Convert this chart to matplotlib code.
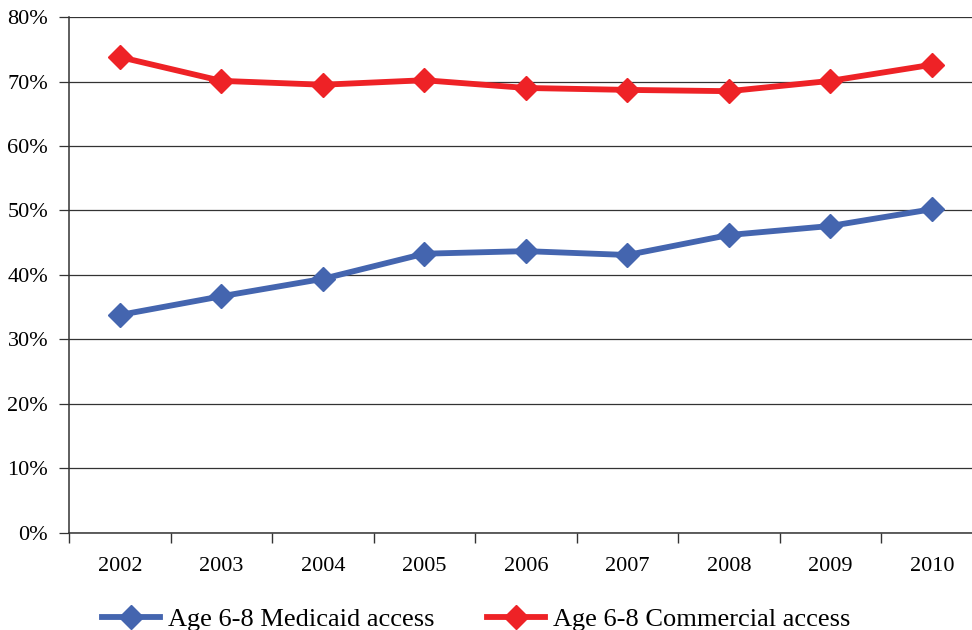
import matplotlib
matplotlib.use("Agg")
import matplotlib.pyplot as plt
import numpy as np
from matplotlib.ticker import FuncFormatter

years = ["2002", "2003", "2004", "2005", "2006", "2007", "2008", "2009", "2010"]
medicaid = [33.8, 36.7, 39.4, 43.3, 43.7, 43.1, 46.2, 47.6, 50.2]
commercial = [73.8, 70.1, 69.5, 70.2, 69.0, 68.7, 68.5, 70.1, 72.6]

plt.rcParams["font.family"] = ["Liberation Serif", "DejaVu Serif"]

fig = plt.figure(figsize=(9.72, 6.3), dpi=100)
ax = fig.add_axes([0.071, 0.154, 0.94, 0.819])

x = np.arange(len(years))
ax.plot(x, medicaid, color="#4465AF", lw=4.2, marker="D", ms=12,
        label="Age 6-8 Medicaid access", zorder=3)
ax.plot(x, commercial, color="#EE2226", lw=4.2, marker="D", ms=12,
        label="Age 6-8 Commercial access", zorder=3)

ax.set_ylim(0, 80)
ax.set_yticks(np.arange(0, 81, 10))
ax.yaxis.set_major_formatter(FuncFormatter(lambda v, p: f"{v:.0f}%"))
ax.grid(axis="y", color="#333333", lw=0.9)
ax.set_axisbelow(True)

ax.set_xlim(-0.5, len(years) - 0.5)
ax.set_xticks(x)
ax.set_xticklabels(years)
ax.set_xticks(np.arange(-0.5, len(years)), minor=True)
ax.tick_params(axis="x", which="major", length=0, pad=17, labelsize=16)
ax.tick_params(axis="x", which="minor", length=7, width=1, color="#333333", direction="out")
ax.tick_params(axis="y", length=7, width=0.9, color="#333333", labelsize=16, pad=8)

for s in ("top", "right"):
    ax.spines[s].set_visible(False)
for s in ("left", "bottom"):
    ax.spines[s].set_color("#333333")
    ax.spines[s].set_linewidth(1.1)

fig.legend(loc="lower center", bbox_to_anchor=(0.49, -0.04), ncol=2, frameon=False,
           fontsize=19, handlelength=2.2, columnspacing=2.0, handletextpad=0.3)

fig.savefig("out.png", dpi=100)
